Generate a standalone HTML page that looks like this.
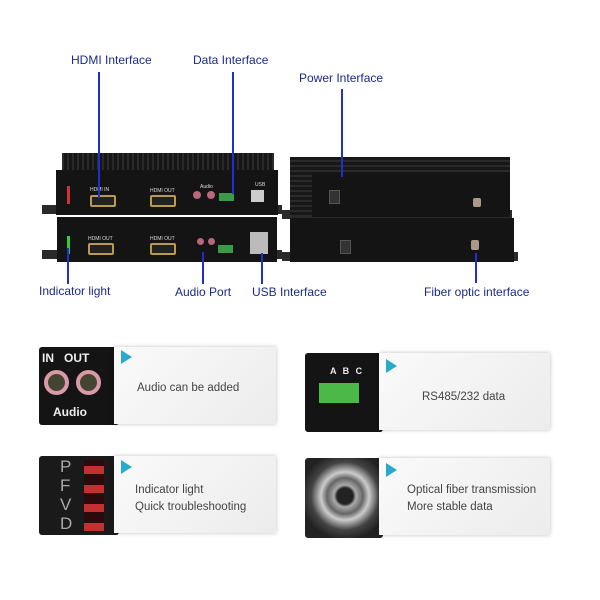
<!DOCTYPE html>
<html><head><meta charset="utf-8"><style>
body{margin:0;width:600px;height:600px;background:#fff;position:relative;overflow:hidden;font-family:"Liberation Sans","DejaVu Sans",sans-serif}
.a{position:absolute}
.lbl{position:absolute;font-size:12px;color:#1a2a8c;white-space:nowrap}
.ln{position:absolute;width:2px;background:#1f2fd0}
.blk{position:absolute;background:#141414}
.card{position:absolute;background:linear-gradient(135deg,#fafafa,#ececec);box-shadow:0 0 4px rgba(0,0,0,.25)}
.tri{position:absolute;width:0;height:0;border-top:7px solid transparent;border-bottom:7px solid transparent;border-left:11px solid #29aacb}
.ct{position:absolute;font-size:11.5px;color:#444;line-height:17px}
.sm{position:absolute;font-size:5px;color:#ddd}
.hd{position:absolute;width:22px;height:8px;border:2px solid #b89a50;border-radius:2px;background:#222}
</style></head><body>
<div class="lbl" style="left:71px;top:53px">HDMI Interface</div>
<div class="lbl" style="left:193px;top:53px">Data Interface</div>
<div class="lbl" style="left:299px;top:71px">Power Interface</div>
<div class="lbl" style="left:39px;top:284px">Indicator light</div>
<div class="lbl" style="left:175px;top:285px">Audio Port</div>
<div class="lbl" style="left:252px;top:285px">USB Interface</div>
<div class="lbl" style="left:424px;top:285px">Fiber optic interface</div>

<!-- left device -->
<div class="a" style="left:42px;top:205px;width:240px;height:9px;background:#2a2a2a"></div>
<div class="a" style="left:42px;top:250px;width:240px;height:9px;background:#2a2a2a"></div>
<div class="blk" style="left:62px;top:153px;width:212px;height:20px;background:repeating-linear-gradient(90deg,#2a2a2a 0 2px,#161616 2px 5px)"></div>
<div class="blk" style="left:56px;top:170px;width:222px;height:45px"></div>
<div class="blk" style="left:57px;top:217px;width:220px;height:45px"></div>
<!-- right device -->
<div class="a" style="left:282px;top:210px;width:230px;height:9px;background:#2a2a2a"></div>
<div class="a" style="left:282px;top:252px;width:236px;height:9px;background:#2a2a2a"></div>
<div class="blk" style="left:290px;top:157px;width:220px;height:60px;background:repeating-linear-gradient(0deg,#2a2a2a 0 2px,#181818 2px 5px)"></div>
<div class="blk" style="left:312px;top:172px;width:198px;height:45px"></div>
<div class="blk" style="left:290px;top:218px;width:224px;height:44px"></div>

<div class="sm" style="left:90px;top:187px">HDMI IN</div><div class="hd" style="left:90px;top:195px"></div>
<div class="sm" style="left:150px;top:188px">HDMI OUT</div><div class="hd" style="left:150px;top:195px"></div>
<div class="sm" style="left:200px;top:184px">Audio</div>
<div class="a" style="left:193px;top:191px;width:8px;height:8px;border-radius:50%;background:#b8687a"></div>
<div class="a" style="left:207px;top:191px;width:8px;height:8px;border-radius:50%;background:#b8687a"></div>
<div class="a" style="left:219px;top:193px;width:15px;height:8px;background:#3a9a4a"></div>
<div class="a" style="left:251px;top:190px;width:13px;height:12px;background:#ccc"></div>
<div class="sm" style="left:255px;top:182px">USB</div>
<div class="a" style="left:67px;top:186px;width:3px;height:18px;background:#c33"></div>
<div class="a" style="left:67px;top:236px;width:3px;height:18px;background:#3c3"></div>
<div class="sm" style="left:88px;top:236px">HDMI OUT</div><div class="hd" style="left:88px;top:243px"></div>
<div class="sm" style="left:150px;top:236px">HDMI OUT</div><div class="hd" style="left:150px;top:243px"></div>
<div class="a" style="left:197px;top:238px;width:7px;height:7px;border-radius:50%;background:#b8687a"></div>
<div class="a" style="left:208px;top:238px;width:7px;height:7px;border-radius:50%;background:#b8687a"></div>
<div class="a" style="left:218px;top:245px;width:15px;height:8px;background:#3a9a4a"></div>
<div class="a" style="left:250px;top:232px;width:18px;height:22px;background:#bbb"></div>
<div class="a" style="left:329px;top:190px;width:9px;height:12px;background:#333;border:1px solid #555"></div>
<div class="a" style="left:473px;top:198px;width:8px;height:9px;background:#a98;border-radius:2px"></div>
<div class="a" style="left:340px;top:240px;width:9px;height:12px;background:#333;border:1px solid #555"></div>
<div class="a" style="left:471px;top:240px;width:8px;height:10px;background:#a98;border-radius:2px"></div>

<div class="ln" style="left:98px;top:72px;height:126px"></div>
<div class="ln" style="left:232px;top:72px;height:122px"></div>
<div class="ln" style="left:341px;top:89px;height:88px"></div>
<div class="ln" style="left:67px;top:248px;height:36px"></div>
<div class="ln" style="left:202px;top:252px;height:32px"></div>
<div class="ln" style="left:261px;top:253px;height:31px"></div>
<div class="ln" style="left:475px;top:253px;height:30px"></div>

<!-- cards -->
<div class="blk" style="left:39px;top:347px;width:80px;height:78px;border-radius:3px"></div>
<div class="a" style="left:42px;top:351px;color:#eee;font-weight:bold;font-size:12px">IN&nbsp;&nbsp;&nbsp;OUT</div>
<div class="a" style="left:44px;top:370px;width:17px;height:17px;border-radius:50%;border:4px solid #d99aa8;background:#443"></div>
<div class="a" style="left:76px;top:370px;width:17px;height:17px;border-radius:50%;border:4px solid #d99aa8;background:#443"></div>
<div class="a" style="left:53px;top:405px;color:#eee;font-weight:bold;font-size:12px">Audio</div>
<div class="card" style="left:114px;top:347px;width:162px;height:77px"></div>
<div class="tri" style="left:121px;top:350px"></div>
<div class="ct" style="left:137px;top:380px">Audio can be added</div>

<div class="blk" style="left:305px;top:353px;width:78px;height:79px;border-radius:3px"></div>
<div class="a" style="left:330px;top:366px;color:#eee;font-weight:bold;font-size:9px;word-spacing:4px">A B C</div>
<div class="a" style="left:319px;top:383px;width:40px;height:20px;background:#4cb848"></div>
<div class="card" style="left:379px;top:353px;width:171px;height:77px"></div>
<div class="tri" style="left:386px;top:359px"></div>
<div class="ct" style="left:422px;top:389px">RS485/232 data</div>

<div class="blk" style="left:39px;top:456px;width:80px;height:79px;border-radius:3px;background:#1a1a1a"></div>
<div class="a" style="left:60px;top:457px;color:#aaa;font-size:17px;line-height:19px">P<br>F<br>V<br>D</div>
<div class="a" style="left:84px;top:460px;width:20px;height:72px;background:repeating-linear-gradient(#2a0a0a 0 6px,#c43030 6px 14px,#2a0a0a 14px 19px)"></div>
<div class="card" style="left:114px;top:456px;width:162px;height:77px"></div>
<div class="tri" style="left:121px;top:460px"></div>
<div class="ct" style="left:135px;top:482px">Indicator light<br>Quick troubleshooting</div>

<div class="blk" style="left:305px;top:458px;width:78px;height:80px;border-radius:3px;background:radial-gradient(circle at 40px 38px,#222 8px,#aaa 11px,#666 18px,#ccc 24px,#444 34px,#222 44px)"></div>
<div class="card" style="left:379px;top:458px;width:171px;height:77px"></div>
<div class="tri" style="left:386px;top:463px"></div>
<div class="ct" style="left:407px;top:482px">Optical fiber transmission<br>More stable data</div>
</body></html>
